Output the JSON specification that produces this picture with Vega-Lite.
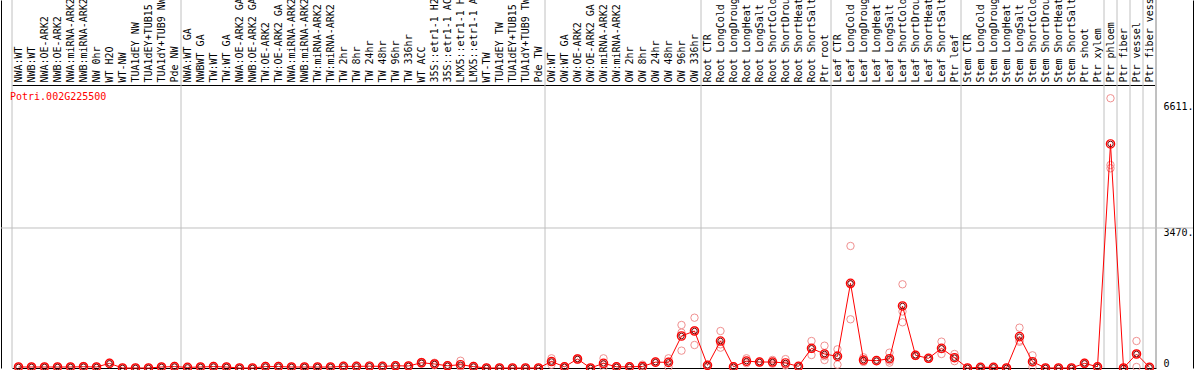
{
"$schema": "https://vega.github.io/schema/vega-lite/v6.json",
"width": 1192, "height": 368,
"autosize": {"type": "none"},
"padding": {"left": 1, "top": 0, "right": 1, "bottom": 2},
"background": "white",
"config": {"view": {"stroke": null}, "axis": {"grid": false}},
"datasets": {
"seps": [{"k":"NWA:WT"},{"k":"NWA:WT GA"},{"k":"OW:WT"},{"k":"Root CTR"},{"k":"Leaf CTR"},{"k":"Stem CTR"},{"k":"Ptr phloem"},{"k":"Ptr fiber"},{"k":"Ptr vessel"},{"k":"Ptr fiber vessel"}],
"title": [{"t": "Potri.002G225500"}],
"means": [{"k":"NWA:WT","v":25},{"k":"NWB:WT","v":25},{"k":"NWA:OE-ARK2","v":25},{"k":"NWB:OE-ARK2","v":25},{"k":"NWA:miRNA-ARK2","v":25},{"k":"NWB:miRNA-ARK2","v":32},{"k":"NW 0hr","v":25},{"k":"WT H2O","v":115},{"k":"WT-NW","v":0},{"k":"TUA1dEY NW","v":0},{"k":"TUA1dEY+TUB15 NW","v":0},{"k":"TUA1dY+TUB9 NW","v":25},{"k":"Pde NW","v":35},{"k":"NWA:WT GA","v":15},{"k":"NWBWT GA","v":25},{"k":"TW:WT","v":35},{"k":"TW:WT GA","v":25},{"k":"NWA:OE-ARK2 GA","v":0},{"k":"NWB:OE-ARK2 GA","v":0},{"k":"TW:OE-ARK2","v":35},{"k":"TW:OE-ARK2 GA","v":35},{"k":"NWA:miRNA-ARK2 GA","v":25},{"k":"NWB:miRNA-ARK2 GA","v":25},{"k":"TW:miRNA-ARK2","v":25},{"k":"TW:miRNA-ARK2 GA","v":25},{"k":"TW 2hr","v":40},{"k":"TW 8hr","v":40},{"k":"TW 24hr","v":45},{"k":"TW 48hr","v":40},{"k":"TW 96hr","v":55},{"k":"TW 336hr","v":50},{"k":"WT ACC","v":130},{"k":"35S::etr1-1 H2O","v":100},{"k":"35S::etr1-1 ACC","v":55},{"k":"LMX5::etr1-1 H2O","v":82},{"k":"LMX5::etr1-1 ACC","v":35},{"k":"WT-TW","v":0},{"k":"TUA1dEY TW","v":0},{"k":"TUA1dEY+TUB15 TW","v":0},{"k":"TUA1dY+TUB9 TW","v":0},{"k":"Pde TW","v":0},{"k":"OW:WT","v":160},{"k":"OW:WT GA","v":30},{"k":"OW:OE-ARK2","v":223},{"k":"OW:OE-ARK2 GA","v":0},{"k":"OW:miRNA-ARK2","v":116},{"k":"OW:miRNA-ARK2 GA","v":30},{"k":"OW 2hr","v":30},{"k":"OW 8hr","v":38},{"k":"OW 24hr","v":145},{"k":"OW 48hr","v":140},{"k":"OW 96hr","v":793},{"k":"OW 336hr","v":917},{"k":"Root CTR","v":66},{"k":"Root LongCold","v":669},{"k":"Root LongDrought","v":30},{"k":"Root LongHeat","v":170},{"k":"Root LongSalt","v":148},{"k":"Root ShortCold","v":148},{"k":"Root ShortDrought","v":125},{"k":"Root ShortHeat","v":40},{"k":"Root ShortSalt","v":488},{"k":"Ptr root","v":347},{"k":"Leaf CTR","v":289},{"k":"Leaf LongCold","v":2100},{"k":"Leaf LongDrought","v":198},{"k":"Leaf LongHeat","v":182},{"k":"Leaf LongSalt","v":231},{"k":"Leaf ShortCold","v":1537},{"k":"Leaf ShortDrought","v":314},{"k":"Leaf ShortHeat","v":240},{"k":"Leaf ShortSalt","v":488},{"k":"Ptr leaf","v":256},{"k":"Stem CTR","v":0},{"k":"Stem LongCold","v":17},{"k":"Stem LongDrought","v":17},{"k":"Stem LongHeat","v":0},{"k":"Stem LongSalt","v":777},{"k":"Stem ShortCold","v":157},{"k":"Stem ShortDrought","v":0},{"k":"Stem ShortHeat","v":0},{"k":"Stem ShortSalt","v":0},{"k":"Ptr shoot","v":116},{"k":"Ptr xylem","v":30},{"k":"Ptr phloem","v":5553},{"k":"Ptr fiber","v":0},{"k":"Ptr vessel","v":347},{"k":"Ptr fiber vessel","v":17}],
"reps": [
{"k":"NWA:WT","v":20},{"k":"NWA:WT","v":25},{"k":"NWA:WT","v":30},
{"k":"NWB:WT","v":20},{"k":"NWB:WT","v":25},{"k":"NWB:WT","v":30},
{"k":"NWA:OE-ARK2","v":20},{"k":"NWA:OE-ARK2","v":25},{"k":"NWA:OE-ARK2","v":30},
{"k":"NWB:OE-ARK2","v":20},{"k":"NWB:OE-ARK2","v":25},{"k":"NWB:OE-ARK2","v":30},
{"k":"NWA:miRNA-ARK2","v":20},{"k":"NWA:miRNA-ARK2","v":25},{"k":"NWA:miRNA-ARK2","v":30},
{"k":"NWB:miRNA-ARK2","v":50},{"k":"NWB:miRNA-ARK2","v":25},{"k":"NWB:miRNA-ARK2","v":20},
{"k":"NW 0hr","v":20},{"k":"NW 0hr","v":25},{"k":"NW 0hr","v":30},
{"k":"WT H2O","v":130},{"k":"WT H2O","v":115},{"k":"WT H2O","v":100},
{"k":"WT-NW","v":0},{"k":"WT-NW","v":0},{"k":"WT-NW","v":0},
{"k":"TUA1dEY NW","v":0},{"k":"TUA1dEY NW","v":0},{"k":"TUA1dEY NW","v":0},
{"k":"TUA1dEY+TUB15 NW","v":0},{"k":"TUA1dEY+TUB15 NW","v":0},{"k":"TUA1dEY+TUB15 NW","v":0},
{"k":"TUA1dY+TUB9 NW","v":20},{"k":"TUA1dY+TUB9 NW","v":25},{"k":"TUA1dY+TUB9 NW","v":30},
{"k":"Pde NW","v":50},{"k":"Pde NW","v":30},{"k":"Pde NW","v":25},
{"k":"NWA:WT GA","v":10},{"k":"NWA:WT GA","v":15},{"k":"NWA:WT GA","v":20},
{"k":"NWBWT GA","v":20},{"k":"NWBWT GA","v":25},{"k":"NWBWT GA","v":30},
{"k":"TW:WT","v":50},{"k":"TW:WT","v":30},{"k":"TW:WT","v":25},
{"k":"TW:WT GA","v":20},{"k":"TW:WT GA","v":25},{"k":"TW:WT GA","v":30},
{"k":"NWA:OE-ARK2 GA","v":0},{"k":"NWA:OE-ARK2 GA","v":0},{"k":"NWA:OE-ARK2 GA","v":0},
{"k":"NWB:OE-ARK2 GA","v":0},{"k":"NWB:OE-ARK2 GA","v":0},{"k":"NWB:OE-ARK2 GA","v":0},
{"k":"TW:OE-ARK2","v":50},{"k":"TW:OE-ARK2","v":30},{"k":"TW:OE-ARK2","v":25},
{"k":"TW:OE-ARK2 GA","v":50},{"k":"TW:OE-ARK2 GA","v":30},{"k":"TW:OE-ARK2 GA","v":25},
{"k":"NWA:miRNA-ARK2 GA","v":20},{"k":"NWA:miRNA-ARK2 GA","v":25},{"k":"NWA:miRNA-ARK2 GA","v":30},
{"k":"NWB:miRNA-ARK2 GA","v":20},{"k":"NWB:miRNA-ARK2 GA","v":25},{"k":"NWB:miRNA-ARK2 GA","v":30},
{"k":"TW:miRNA-ARK2","v":20},{"k":"TW:miRNA-ARK2","v":25},{"k":"TW:miRNA-ARK2","v":30},
{"k":"TW:miRNA-ARK2 GA","v":20},{"k":"TW:miRNA-ARK2 GA","v":25},{"k":"TW:miRNA-ARK2 GA","v":30},
{"k":"TW 2hr","v":55},{"k":"TW 2hr","v":35},{"k":"TW 2hr","v":30},
{"k":"TW 8hr","v":55},{"k":"TW 8hr","v":35},{"k":"TW 8hr","v":30},
{"k":"TW 24hr","v":60},{"k":"TW 24hr","v":40},{"k":"TW 24hr","v":35},
{"k":"TW 48hr","v":55},{"k":"TW 48hr","v":35},{"k":"TW 48hr","v":30},
{"k":"TW 96hr","v":70},{"k":"TW 96hr","v":50},{"k":"TW 96hr","v":45},
{"k":"TW 336hr","v":60},{"k":"TW 336hr","v":50},{"k":"TW 336hr","v":40},
{"k":"WT ACC","v":150},{"k":"WT ACC","v":130},{"k":"WT ACC","v":110},
{"k":"35S::etr1-1 H2O","v":130},{"k":"35S::etr1-1 H2O","v":100},{"k":"35S::etr1-1 H2O","v":70},
{"k":"35S::etr1-1 ACC","v":70},{"k":"35S::etr1-1 ACC","v":50},{"k":"35S::etr1-1 ACC","v":45},
{"k":"LMX5::etr1-1 H2O","v":180},{"k":"LMX5::etr1-1 H2O","v":40},{"k":"LMX5::etr1-1 H2O","v":26},
{"k":"LMX5::etr1-1 ACC","v":50},{"k":"LMX5::etr1-1 ACC","v":30},{"k":"LMX5::etr1-1 ACC","v":25},
{"k":"WT-TW","v":0},{"k":"WT-TW","v":0},{"k":"WT-TW","v":0},
{"k":"TUA1dEY TW","v":0},{"k":"TUA1dEY TW","v":0},{"k":"TUA1dEY TW","v":0},
{"k":"TUA1dEY+TUB15 TW","v":0},{"k":"TUA1dEY+TUB15 TW","v":0},{"k":"TUA1dEY+TUB15 TW","v":0},
{"k":"TUA1dY+TUB9 TW","v":0},{"k":"TUA1dY+TUB9 TW","v":0},{"k":"TUA1dY+TUB9 TW","v":0},
{"k":"Pde TW","v":0},{"k":"Pde TW","v":0},{"k":"Pde TW","v":0},
{"k":"OW:WT","v":240},{"k":"OW:WT","v":160},{"k":"OW:WT","v":80},
{"k":"OW:WT GA","v":40},{"k":"OW:WT GA","v":30},{"k":"OW:WT GA","v":20},
{"k":"OW:OE-ARK2","v":240},{"k":"OW:OE-ARK2","v":223},{"k":"OW:OE-ARK2","v":206},
{"k":"OW:OE-ARK2 GA","v":0},{"k":"OW:OE-ARK2 GA","v":0},{"k":"OW:OE-ARK2 GA","v":0},
{"k":"OW:miRNA-ARK2","v":240},{"k":"OW:miRNA-ARK2","v":85},{"k":"OW:miRNA-ARK2","v":25},
{"k":"OW:miRNA-ARK2 GA","v":40},{"k":"OW:miRNA-ARK2 GA","v":30},{"k":"OW:miRNA-ARK2 GA","v":20},
{"k":"OW 2hr","v":40},{"k":"OW 2hr","v":30},{"k":"OW 2hr","v":20},
{"k":"OW 8hr","v":82},{"k":"OW 8hr","v":20},{"k":"OW 8hr","v":12},
{"k":"OW 24hr","v":160},{"k":"OW 24hr","v":145},{"k":"OW 24hr","v":130},
{"k":"OW 48hr","v":240},{"k":"OW 48hr","v":155},{"k":"OW 48hr","v":25},
{"k":"OW 96hr","v":1066},{"k":"OW 96hr","v":876},{"k":"OW 96hr","v":430},
{"k":"OW 336hr","v":1247},{"k":"OW 336hr","v":934},{"k":"OW 336hr","v":570},
{"k":"Root CTR","v":80},{"k":"Root CTR","v":66},{"k":"Root CTR","v":52},
{"k":"Root LongCold","v":917},{"k":"Root LongCold","v":586},{"k":"Root LongCold","v":504},
{"k":"Root LongDrought","v":40},{"k":"Root LongDrought","v":30},{"k":"Root LongDrought","v":20},
{"k":"Root LongHeat","v":240},{"k":"Root LongHeat","v":150},{"k":"Root LongHeat","v":120},
{"k":"Root LongSalt","v":160},{"k":"Root LongSalt","v":148},{"k":"Root LongSalt","v":136},
{"k":"Root ShortCold","v":200},{"k":"Root ShortCold","v":140},{"k":"Root ShortCold","v":105},
{"k":"Root ShortDrought","v":220},{"k":"Root ShortDrought","v":90},{"k":"Root ShortDrought","v":65},
{"k":"Root ShortHeat","v":50},{"k":"Root ShortHeat","v":40},{"k":"Root ShortHeat","v":30},
{"k":"Root ShortSalt","v":669},{"k":"Root ShortSalt","v":473},{"k":"Root ShortSalt","v":322},
{"k":"Ptr root","v":553},{"k":"Ptr root","v":290},{"k":"Ptr root","v":198},
{"k":"Leaf CTR","v":463},{"k":"Leaf CTR","v":322},{"k":"Leaf CTR","v":82},
{"k":"Leaf LongCold","v":3024},{"k":"Leaf LongCold","v":2069},{"k":"Leaf LongCold","v":1207},
{"k":"Leaf LongDrought","v":265},{"k":"Leaf LongDrought","v":180},{"k":"Leaf LongDrought","v":150},
{"k":"Leaf LongHeat","v":190},{"k":"Leaf LongHeat","v":182},{"k":"Leaf LongHeat","v":174},
{"k":"Leaf LongSalt","v":380},{"k":"Leaf LongSalt","v":180},{"k":"Leaf LongSalt","v":133},
{"k":"Leaf ShortCold","v":2075},{"k":"Leaf ShortCold","v":1400},{"k":"Leaf ShortCold","v":1133},
{"k":"Leaf ShortDrought","v":330},{"k":"Leaf ShortDrought","v":314},{"k":"Leaf ShortDrought","v":298},
{"k":"Leaf ShortHeat","v":250},{"k":"Leaf ShortHeat","v":240},{"k":"Leaf ShortHeat","v":230},
{"k":"Leaf ShortSalt","v":653},{"k":"Leaf ShortSalt","v":465},{"k":"Leaf ShortSalt","v":347},
{"k":"Ptr leaf","v":347},{"k":"Ptr leaf","v":250},{"k":"Ptr leaf","v":170},
{"k":"Stem CTR","v":0},{"k":"Stem CTR","v":0},{"k":"Stem CTR","v":0},
{"k":"Stem LongCold","v":25},{"k":"Stem LongCold","v":17},{"k":"Stem LongCold","v":10},
{"k":"Stem LongDrought","v":25},{"k":"Stem LongDrought","v":17},{"k":"Stem LongDrought","v":10},
{"k":"Stem LongHeat","v":0},{"k":"Stem LongHeat","v":0},{"k":"Stem LongHeat","v":0},
{"k":"Stem LongSalt","v":1000},{"k":"Stem LongSalt","v":680},{"k":"Stem LongSalt","v":650},
{"k":"Stem ShortCold","v":314},{"k":"Stem ShortCold","v":132},{"k":"Stem ShortCold","v":25},
{"k":"Stem ShortDrought","v":0},{"k":"Stem ShortDrought","v":0},{"k":"Stem ShortDrought","v":0},
{"k":"Stem ShortHeat","v":0},{"k":"Stem ShortHeat","v":0},{"k":"Stem ShortHeat","v":0},
{"k":"Stem ShortSalt","v":0},{"k":"Stem ShortSalt","v":0},{"k":"Stem ShortSalt","v":0},
{"k":"Ptr shoot","v":130},{"k":"Ptr shoot","v":116},{"k":"Ptr shoot","v":100},
{"k":"Ptr xylem","v":40},{"k":"Ptr xylem","v":30},{"k":"Ptr xylem","v":20},
{"k":"Ptr phloem","v":6686},{"k":"Ptr phloem","v":5032},{"k":"Ptr phloem","v":4950},
{"k":"Ptr fiber","v":0},{"k":"Ptr fiber","v":0},{"k":"Ptr fiber","v":0},
{"k":"Ptr vessel","v":669},{"k":"Ptr vessel","v":347},{"k":"Ptr vessel","v":25},
{"k":"Ptr fiber vessel","v":25},{"k":"Ptr fiber vessel","v":17},{"k":"Ptr fiber vessel","v":10}
]
},
"resolve": {"axis": {"x": "independent", "y": "independent"}},
"layer": [
{
"data": {"name": "seps"},
"mark": {"type": "rule", "color": "#c0c0c0", "strokeWidth": 1},
"encoding": {
"x": {"field": "k", "type": "nominal", "bandPosition": 0, "axis": null,
"scale": {"type": "band", "paddingInner": 0, "paddingOuter": 0, "range": [11, 1155],
"domain": ["NWA:WT","NWB:WT","NWA:OE-ARK2","NWB:OE-ARK2","NWA:miRNA-ARK2","NWB:miRNA-ARK2","NW 0hr","WT H2O","WT-NW","TUA1dEY NW","TUA1dEY+TUB15 NW","TUA1dY+TUB9 NW","Pde NW","NWA:WT GA","NWBWT GA","TW:WT","TW:WT GA","NWA:OE-ARK2 GA","NWB:OE-ARK2 GA","TW:OE-ARK2","TW:OE-ARK2 GA","NWA:miRNA-ARK2 GA","NWB:miRNA-ARK2 GA","TW:miRNA-ARK2","TW:miRNA-ARK2 GA","TW 2hr","TW 8hr","TW 24hr","TW 48hr","TW 96hr","TW 336hr","WT ACC","35S::etr1-1 H2O","35S::etr1-1 ACC","LMX5::etr1-1 H2O","LMX5::etr1-1 ACC","WT-TW","TUA1dEY TW","TUA1dEY+TUB15 TW","TUA1dY+TUB9 TW","Pde TW","OW:WT","OW:WT GA","OW:OE-ARK2","OW:OE-ARK2 GA","OW:miRNA-ARK2","OW:miRNA-ARK2 GA","OW 2hr","OW 8hr","OW 24hr","OW 48hr","OW 96hr","OW 336hr","Root CTR","Root LongCold","Root LongDrought","Root LongHeat","Root LongSalt","Root ShortCold","Root ShortDrought","Root ShortHeat","Root ShortSalt","Ptr root","Leaf CTR","Leaf LongCold","Leaf LongDrought","Leaf LongHeat","Leaf LongSalt","Leaf ShortCold","Leaf ShortDrought","Leaf ShortHeat","Leaf ShortSalt","Ptr leaf","Stem CTR","Stem LongCold","Stem LongDrought","Stem LongHeat","Stem LongSalt","Stem ShortCold","Stem ShortDrought","Stem ShortHeat","Stem ShortSalt","Ptr shoot","Ptr xylem","Ptr phloem","Ptr fiber","Ptr vessel","Ptr fiber vessel"]}}
}
},
{
"data": {"name": "seps"},
"mark": {"type": "rule", "color": "#c0c0c0", "strokeWidth": 1},
"encoding": {
"x": {"datum": "Ptr fiber vessel", "type": "nominal", "bandPosition": 1, "axis": null,
"scale": {"type": "band", "paddingInner": 0, "paddingOuter": 0, "range": [11, 1155]}}
}
},
{
"data": {"name": "title"},
"mark": {"type": "rule", "color": "#c0c0c0", "strokeWidth": 1},
"encoding": {
"y": {"datum": 3470, "type": "quantitative", "axis": null}
}
},
{
"data": {"name": "reps"},
"mark": {"type": "point", "shape": "circle", "filled": false, "stroke": "#f09090", "strokeWidth": 1, "size": 55, "opacity": 1},
"encoding": {
"x": {"field": "k", "type": "nominal",
"scale": {"type": "band", "paddingInner": 0, "paddingOuter": 0, "range": [11, 1155]},
"axis": {"orient": "top", "offset": -85, "title": null, "labelAngle": 270, "labelAlign": "left", "labelBaseline": "middle", "labelPadding": 3, "ticks": false, "domain": true, "domainColor": "#000000", "domainWidth": 1, "labelFont": "DejaVu Sans Mono", "labelFontSize": 10, "labelColor": "#000000", "labelOverlap": false, "labelLimit": 400, "grid": false}},
"y": {"field": "v", "type": "quantitative",
"scale": {"domain": [0, 9121], "nice": false, "zero": true},
"axis": {"orient": "right", "values": [0, 3470, 6611], "labelExpr": "datum.value == 0 ? '0' : datum.value + '.'", "title": null, "ticks": false, "grid": false, "domain": true, "domainColor": "#000000", "labelAlign": "left", "labelPadding": -30, "labelBaseline": {"condition": {"test": "datum.value == 0", "value": "bottom"}, "value": "top"}, "labelFont": "DejaVu Sans Mono", "labelFontSize": 10, "labelColor": "#000000"}}
}
},
{
"data": {"name": "means"},
"mark": {"type": "line", "color": "#ff0000", "strokeWidth": 1},
"encoding": {
"x": {"field": "k", "type": "nominal",
"scale": {"type": "band", "paddingInner": 0, "paddingOuter": 0, "range": [11, 1155]},
"axis": {"orient": "bottom", "labels": false, "ticks": false, "title": null, "domainColor": "#000000", "grid": false}},
"y": {"field": "v", "type": "quantitative", "axis": {"orient": "left", "labels": false, "ticks": false, "title": null, "domainColor": "#000000", "grid": false}},
"order": {"value": null}
}
},
{
"data": {"name": "means"},
"mark": {"type": "point", "shape": "circle", "filled": false, "stroke": "#ff0000", "strokeWidth": 1.2, "size": 70, "opacity": 1},
"encoding": {
"x": {"field": "k", "type": "nominal", "axis": null,
"scale": {"type": "band", "paddingInner": 0, "paddingOuter": 0, "range": [11, 1155]}},
"y": {"field": "v", "type": "quantitative", "axis": null}
}
},
{
"data": {"name": "means"},
"mark": {"type": "point", "shape": "circle", "filled": false, "stroke": "#700000", "strokeWidth": 1, "size": 30, "opacity": 1},
"encoding": {
"x": {"field": "k", "type": "nominal", "axis": null,
"scale": {"type": "band", "paddingInner": 0, "paddingOuter": 0, "range": [11, 1155]}},
"y": {"field": "v", "type": "quantitative", "axis": null}
}
},
{
"data": {"name": "title"},
"mark": {"type": "text", "align": "left", "baseline": "middle", "dx": -2, "color": "#ff0000", "font": "DejaVu Sans Mono", "fontSize": 10},
"encoding": {
"x": {"datum": "NWA:WT", "type": "nominal", "bandPosition": 0, "axis": null,
"scale": {"type": "band", "paddingInner": 0, "paddingOuter": 0, "range": [11, 1155]}},
"y": {"datum": 6705, "type": "quantitative", "axis": null},
"text": {"field": "t"}
}
}
]
}
